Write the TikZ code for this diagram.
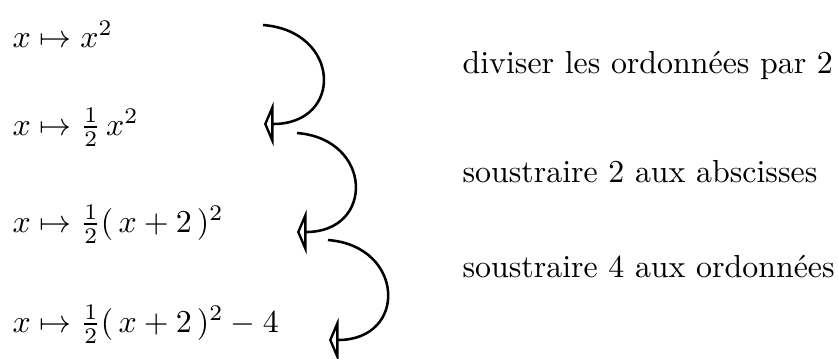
\documentclass[tikz,border=0pt]{standalone}
\usepackage{fontspec}
\usetikzlibrary{arrows.meta}
\begin{document}
\begin{tikzpicture}[x=0.3135pt,y=-0.3135pt,
  formula/.style={anchor=base west,inner sep=0pt},
  note/.style={anchor=base west,inner sep=0pt},
  bendarrow/.style={thick,-{Triangle[open,length=3pt,width=14pt]}}]
\useasboundingbox (0,0) rectangle (838,358);
\node[formula] (f1) at (12,47) {$x\mapsto x^2$};
\node[formula] (f2) at (12,135) {$x\mapsto \frac{1}{2}\,x^2$};
\node[formula] (f3) at (12,232) {$x\mapsto \frac{1}{2}(\,x+2\,)^2$};
\node[formula] (f4) at (12,332) {$x\mapsto \frac{1}{2}(\,x+2\,)^2-4$};
\node[note] (n1) at (462,73) {diviser les ordonnées par 2};
\node[note] (n2) at (462,182) {soustraire 2 aux abscisses};
\node[note] (n3) at (462,277) {soustraire 4 aux ordonnées};
\coordinate (a1s) at (263,25);
\coordinate (a1e) at (264,124);
\coordinate (a2s) at (297,133);
\coordinate (a2e) at (297,232);
\coordinate (a3s) at (328,240);
\coordinate (a3e) at (329,340);
\draw[bendarrow] (a1s) .. controls +(78,6) and +(80,0) .. (a1e);
\draw[bendarrow] (a2s) .. controls +(76,6) and +(78,0) .. (a2e);
\draw[bendarrow] (a3s) .. controls +(77,6) and +(79,0) .. (a3e);
\end{tikzpicture}
\end{document}
